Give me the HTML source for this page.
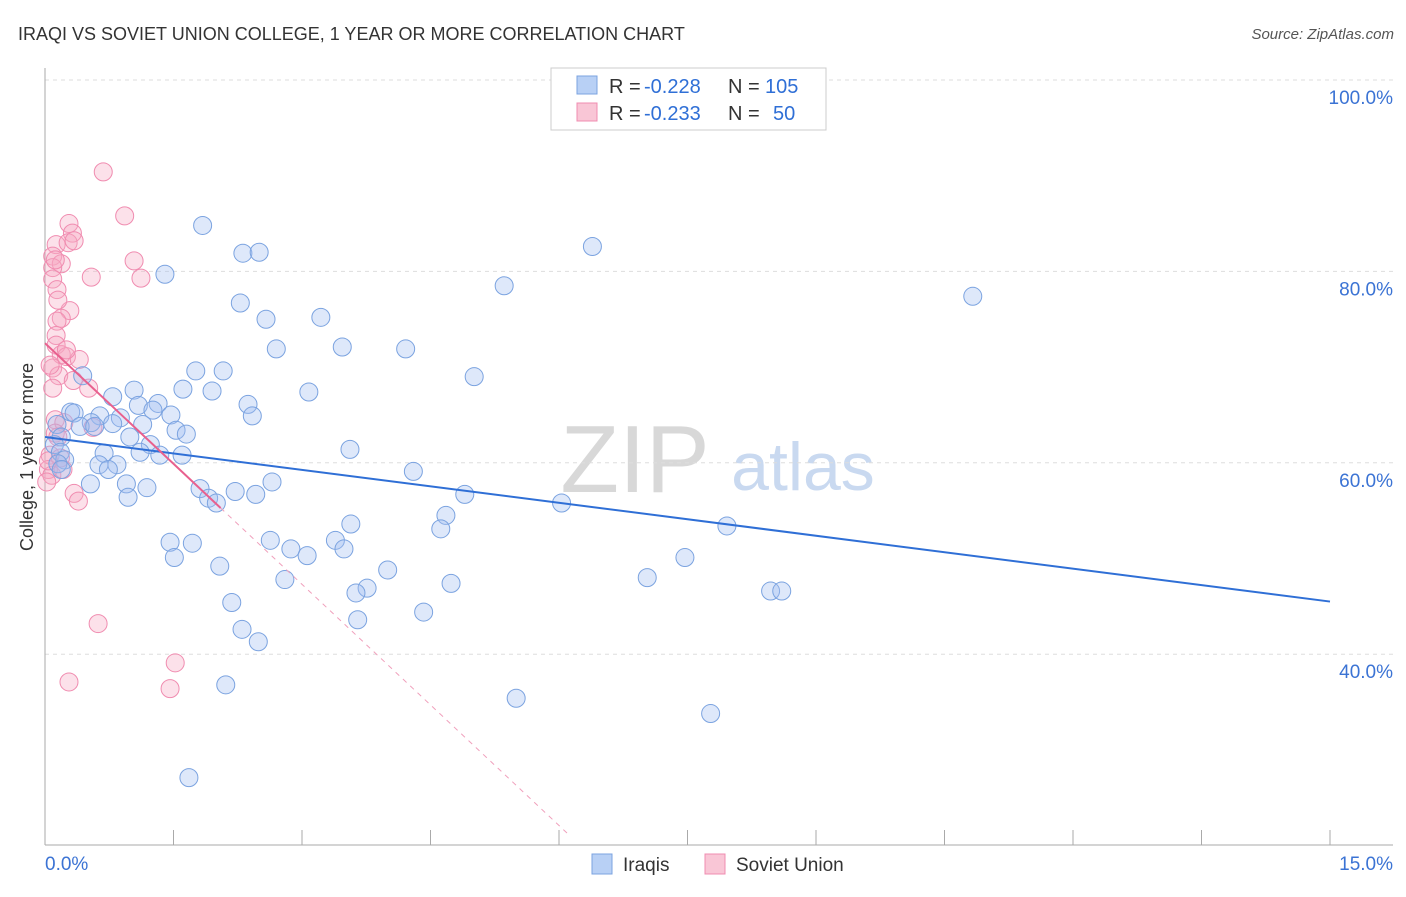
<!DOCTYPE html>
<html><head><meta charset="utf-8">
<style>
body{margin:0;background:#fff;font-family:"Liberation Sans",sans-serif;}
svg text{font-family:"Liberation Sans",sans-serif;}
</style></head>
<body>
<svg id="chart" width="1406" height="892" xmlns="http://www.w3.org/2000/svg">
<text x="18" y="40" font-size="18" fill="#333">IRAQI VS SOVIET UNION COLLEGE, 1 YEAR OR MORE CORRELATION CHART</text>
<text x="1394" y="39" font-size="15" fill="#555" font-style="italic" text-anchor="end">Source: ZipAtlas.com</text>
<g>
<text x="635" y="492" font-size="96" fill="#d8d8d8" font-family="Liberation Serif" text-anchor="middle">ZIP</text>
<text x="803" y="490" font-size="68" fill="#c9d9f0" text-anchor="middle">atlas</text>
</g>
<g id="grid"></g>
<g id="marks"></g>
<text transform="translate(33,457) rotate(-90)" font-size="18" fill="#333" text-anchor="middle">College, 1 year or more</text>
<g>
<rect x="551" y="68" width="275" height="62" fill="#fff" stroke="#ccc"/>
<rect x="577" y="76" width="20" height="18" fill="#b8d0f5" stroke="#7ba3e0"/>
<text x="609" y="93" font-size="20" fill="#333">R =</text>
<text x="644" y="93" font-size="20" fill="#2f6fd6">-0.228</text>
<text x="728" y="93" font-size="20" fill="#333">N =</text>
<text x="765" y="93" font-size="20" fill="#2f6fd6">105</text>
<rect x="577" y="103" width="20" height="18" fill="#f9c6d6" stroke="#f08cb0"/>
<text x="609" y="120" font-size="20" fill="#333">R =</text>
<text x="644" y="120" font-size="20" fill="#2f6fd6">-0.233</text>
<text x="728" y="120" font-size="20" fill="#333">N =</text>
<text x="773" y="120" font-size="20" fill="#2f6fd6">50</text>
</g>
<g>
<rect x="592" y="854" width="20" height="20" fill="#b8d0f5" stroke="#7ba3e0"/>
<text x="623" y="871" font-size="19" fill="#333">Iraqis</text>
<rect x="705" y="854" width="20" height="20" fill="#f9c6d6" stroke="#f08cb0"/>
<text x="736" y="871" font-size="19" fill="#333">Soviet Union</text>
</g>
</svg>
<script>
const yTicks=[40,60,80,100];
const yTickLabels=["40.0%","60.0%","80.0%","100.0%"];
const xLabels=["0.0%","15.0%"];
const blueX=[1.84,2.31,2.50,1.40,6.39,5.36,10.83,2.28,2.58,3.22,2.70,3.47,4.21,5.01,1.76,2.08,1.61,1.95,3.08,0.44,1.04,0.79,1.32,1.09,1.26,2.37,2.42,1.47,0.30,0.34,0.64,0.88,0.54,0.41,0.58,0.79,1.14,1.53,1.65,0.14,0.19,0.99,1.23,1.11,1.34,1.60,3.56,0.11,0.18,0.23,0.15,0.69,0.63,0.84,0.74,4.30,0.53,0.95,1.19,0.97,1.81,2.22,2.46,2.65,1.91,2.00,4.90,6.03,4.68,4.62,3.57,7.96,1.46,1.72,2.63,2.87,3.06,3.39,3.49,1.51,2.04,4.00,7.47,2.80,7.03,4.74,3.76,3.63,8.47,8.60,2.18,4.42,3.65,2.30,2.49,2.11,5.50,7.77,1.68,0.19];
const blueY=[84.8,81.9,82.0,79.7,82.6,78.5,77.4,76.7,75.0,75.2,71.9,72.1,71.9,69.0,69.6,69.6,67.7,67.5,67.4,69.1,67.6,66.9,66.2,66.0,65.5,66.1,64.9,65.0,65.3,65.2,64.9,64.7,64.2,63.8,63.8,64.1,64.0,63.4,63.0,64.0,62.7,62.7,61.9,61.1,60.8,60.8,61.4,61.9,61.1,60.3,59.9,61.0,59.8,59.8,59.3,59.1,57.8,57.8,57.4,56.4,57.3,57.0,56.7,58.0,56.3,55.8,56.7,55.8,54.5,53.1,53.6,53.4,51.7,51.6,51.9,51.0,50.3,51.9,51.0,50.1,49.2,48.8,50.1,47.8,48.0,47.4,46.9,46.4,46.6,46.6,45.4,44.4,43.6,42.6,41.3,36.8,35.4,33.8,27.1,59.3];
const pinkX=[0.68,0.93,0.28,0.32,0.13,0.27,0.34,0.09,0.19,1.04,0.54,1.12,0.09,0.09,0.14,0.29,0.19,0.14,0.13,0.13,0.19,0.25,0.40,0.09,0.16,0.51,0.33,0.09,0.12,0.22,0.56,0.12,0.06,0.18,0.04,0.08,0.21,0.02,0.34,0.39,0.62,0.28,1.52,1.46,0.15,0.06,0.04,0.25,0.12,0.15];
const pinkY=[90.4,85.8,85.0,84.0,82.8,83.0,83.2,81.6,80.8,81.1,79.4,79.3,80.4,79.2,78.1,75.9,75.1,74.8,73.3,72.3,71.3,71.1,70.8,69.9,69.1,67.8,68.6,67.8,64.5,64.2,63.7,63.1,60.8,60.5,59.3,58.7,59.3,58.0,56.8,56.0,43.2,37.1,39.1,36.4,62.7,70.2,60.2,71.8,81.2,77.0];
const blueTrend=[62.7,45.5];   // y at x=0 and x=15
const pinkTrend=[72.5,-8.4];   // intercept, slope per %
const pinkSolidEnd=2.05;
const pinkDashEndY=21;

const NS="http://www.w3.org/2000/svg";
const X0=45,X1=1330,Y0=1037,PXY=9.57;
const xs=v=>X0+v/15*(X1-X0);
const ys=v=>Y0-v*PXY;
function mk(tag,attrs,parent){const e=document.createElementNS(NS,tag);for(const k in attrs)e.setAttribute(k,attrs[k]);parent.appendChild(e);return e;}
const grid=document.getElementById('grid'),marks=document.getElementById('marks');
yTicks.forEach((t,i)=>{
  const l=mk('line',{x1:X0,x2:1393,y1:ys(t),y2:ys(t),stroke:'#ddd','stroke-dasharray':'4,4'},grid);
  
  
  const tx=mk('text',{x:1393,y:ys(t)+24,'font-size':19,fill:'#3b73d4','text-anchor':'end'},grid);
  tx.textContent=yTickLabels[i];
  
  
});
const ax=mk('line',{x1:X0,x2:1393,y1:845,y2:845,stroke:'#aaa'},grid);


const ay=mk('line',{x1:X0,x2:X0,y1:68,y2:845,stroke:'#aaa'},grid);


for(let i=0;i<=10;i++){
  const t=mk('line',{x1:xs(i*1.5),x2:xs(i*1.5),y1:830,y2:845,stroke:'#aaa'},grid);
  
  
}
[[0,'start',xLabels[0],45],[15,'end',xLabels[1],1393]].forEach(a=>{
  const t=mk('text',{x:a[3],y:870,'font-size':19,fill:'#3b73d4','text-anchor':a[1]},grid);
  t.textContent=a[2];
  
  
});
pinkX.forEach((x,i)=>{
  const c=mk('circle',{cx:xs(x),cy:ys(pinkY[i]),r:9,fill:'rgba(245,170,195,0.35)',stroke:'#f08cb0','stroke-width':1},marks);
  
  
});
blueX.forEach((x,i)=>{
  const c=mk('circle',{cx:xs(x),cy:ys(blueY[i]),r:9,fill:'rgba(160,190,240,0.35)',stroke:'#7ba3e0','stroke-width':1},marks);
  
  
});
const bt=mk('line',{x1:xs(0),y1:ys(blueTrend[0]),x2:xs(15),y2:ys(blueTrend[1]),stroke:'#2f6fd6','stroke-width':2},marks);


const pe=(pinkDashEndY-pinkTrend[0])/pinkTrend[1];
const pd=mk('line',{x1:xs(pinkSolidEnd),y1:ys(pinkTrend[0]+pinkTrend[1]*pinkSolidEnd),x2:xs(pe),y2:ys(pinkDashEndY),stroke:'#f0a0bc','stroke-width':1,'stroke-dasharray':'5,5'},marks);


const pt=mk('line',{x1:xs(0),y1:ys(pinkTrend[0]),x2:xs(pinkSolidEnd),y2:ys(pinkTrend[0]+pinkTrend[1]*pinkSolidEnd),stroke:'#e8608e','stroke-width':2},marks);


</script>
</body></html>
